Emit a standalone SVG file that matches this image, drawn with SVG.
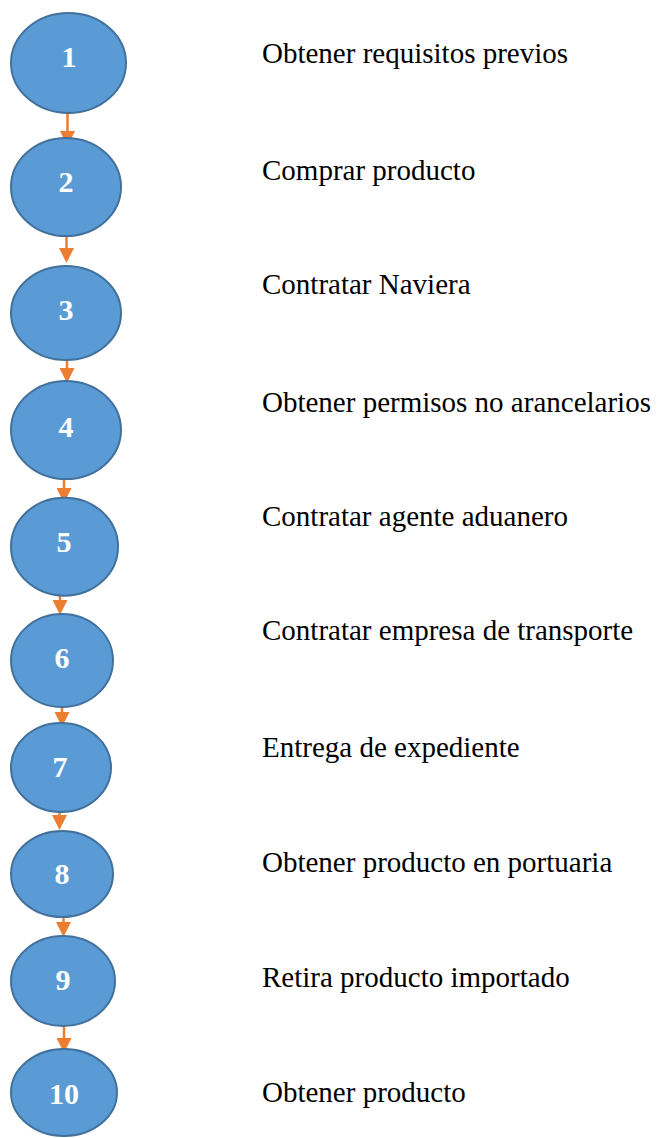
<svg xmlns="http://www.w3.org/2000/svg" width="660" height="1138" viewBox="0 0 660 1138">
<style>
.node ellipse{fill:#5B9BD5;stroke:#41719C;stroke-width:2}
.num{font-family:"Liberation Serif","Times New Roman",serif;font-weight:bold;font-size:30px;fill:#FFFFFF;text-anchor:middle}
.lbl{font-family:"Liberation Serif","Times New Roman",serif;font-size:29px;fill:#000000}
.conn line{stroke:#ED7D31;stroke-width:2.5;marker-end:url(#ah)}
</style>
<defs>
<marker id="ah" viewBox="0 0 15 15" markerWidth="15" markerHeight="15" refX="7" refY="7.5" orient="auto" markerUnits="userSpaceOnUse">
<path d="M0,0 L15,7.5 L0,15 Z" fill="#ED7D31"/>
</marker>
</defs>
<rect width="660" height="1138" fill="#FFFFFF"/>
<g id="connectors" class="conn">
<line x1="67.5" y1="114" x2="67.5" y2="138"/>
<line x1="66.5" y1="230" x2="66.5" y2="255"/>
<line x1="67" y1="348" x2="67" y2="375"/>
<line x1="64" y1="468" x2="64" y2="495"/>
<line x1="60" y1="581" x2="60" y2="607"/>
<line x1="62" y1="692" x2="62" y2="719"/>
<line x1="59.5" y1="797" x2="59.5" y2="822"/>
<line x1="63.5" y1="905" x2="63.5" y2="929"/>
<line x1="64" y1="1020" x2="64" y2="1045"/>
</g>
<g id="node1" class="node"><ellipse cx="68.5" cy="63" rx="57.5" ry="50"/><text class="num" x="69" y="67">1</text><text class="lbl" x="262" y="63">Obtener requisitos previos</text></g>
<g id="node2" class="node"><ellipse cx="66" cy="187" rx="55" ry="49"/><text class="num" x="66" y="192">2</text><text class="lbl" x="262" y="180">Comprar producto</text></g>
<g id="node3" class="node"><ellipse cx="66" cy="313" rx="55" ry="47"/><text class="num" x="66" y="320">3</text><text class="lbl" x="262" y="294">Contratar Naviera</text></g>
<g id="node4" class="node"><ellipse cx="66" cy="430" rx="55" ry="49"/><text class="num" x="66" y="437">4</text><text class="lbl" x="262" y="412">Obtener permisos no arancelarios</text></g>
<g id="node5" class="node"><ellipse cx="64.5" cy="546.7" rx="53.5" ry="49"/><text class="num" x="64" y="552">5</text><text class="lbl" x="262" y="526">Contratar agente aduanero</text></g>
<g id="node6" class="node"><ellipse cx="62" cy="660.5" rx="51" ry="46.5"/><text class="num" x="62" y="668">6</text><text class="lbl" x="262" y="640">Contratar empresa de transporte</text></g>
<g id="node7" class="node"><ellipse cx="61" cy="767.5" rx="50" ry="44.5"/><text class="num" x="60" y="777">7</text><text class="lbl" x="262" y="757">Entrega de expediente</text></g>
<g id="node8" class="node"><ellipse cx="62" cy="874" rx="51" ry="43"/><text class="num" x="62" y="884">8</text><text class="lbl" x="262" y="872">Obtener producto en portuaria</text></g>
<g id="node9" class="node"><ellipse cx="63" cy="981" rx="52" ry="45"/><text class="num" x="63" y="990">9</text><text class="lbl" x="262" y="987">Retira producto importado</text></g>
<g id="node10" class="node"><ellipse cx="64" cy="1092.5" rx="53" ry="43.5"/><text class="num" x="64" y="1104">10</text><text class="lbl" x="262" y="1102">Obtener producto</text></g>
</svg>
